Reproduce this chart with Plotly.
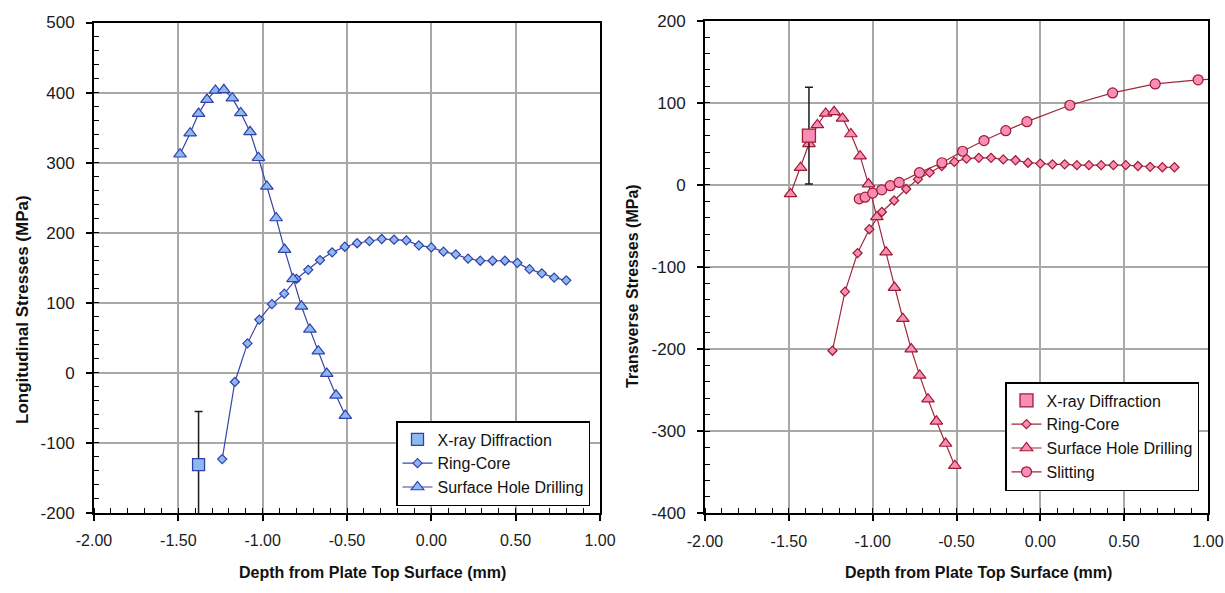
import plotly.graph_objects as go

# ---------------- data ----------------
x_tick_vals = [-2.0, -1.5, -1.0, -0.5, 0.0, 0.5, 1.0]
x_tick_text = ["-2.00", "-1.50", "-1.00", "-0.50", "0.00", "0.50", "1.00"]
yl_tick_vals = [-200, -100, 0, 100, 200, 300, 400, 500]
yl_tick_text = ["-200", "-100", "0", "100", "200", "300", "400", "500"]
yr_tick_vals = [-400, -300, -200, -100, 0, 100, 200]
yr_tick_text = ["-400", "-300", "-200", "-100", "0", "100", "200"]

# X-ray diffraction
xray_depth = [-1.38]
xray_long = [-131]
xray_long_err = [76]
xray_trans = [60]
xray_trans_err = [59]

# Ring-core
rc_depth = [-1.24, -1.165, -1.09, -1.02, -0.945, -0.872, -0.80, -0.73, -0.66, -0.588,
            -0.513, -0.44, -0.367, -0.294, -0.221, -0.148, -0.074, 0.0, 0.072, 0.145,
            0.218, 0.29, 0.363, 0.436, 0.51, 0.582, 0.655, 0.728, 0.80]
rc_long = [-123, -13, 42, 76, 98, 113, 134, 147, 161, 172,
           180, 185, 188, 191, 190, 189, 182, 179, 173, 169,
           163, 160, 160, 160, 157, 148, 142, 136, 132]
rc_trans = [-202, -130, -83, -54, -33, -19, -5, 7, 15, 23,
            28, 32, 33, 33, 31, 30, 27, 26, 25, 25,
            24, 24, 24, 24, 24, 23, 22, 21.5, 21.5]

# Surface hole drilling
shd_depth = [-1.49, -1.43, -1.38, -1.33, -1.28, -1.23, -1.18, -1.13, -1.075, -1.025,
             -0.975, -0.92, -0.87, -0.82, -0.77, -0.72, -0.67, -0.62, -0.565, -0.51]
shd_long = [312, 342, 370, 390, 403, 404, 392, 371, 344, 307,
            266, 221, 176, 134, 95, 62, 31, -1, -32, -61]
shd_trans = [-11, 21, 50, 73, 87, 89, 81, 62, 35, 1,
             -39, -82, -125, -163, -200, -232, -261, -288, -315, -342]

# Slitting (transverse only)
sl_depth = [-1.08, -1.045, -1.0, -0.946, -0.895, -0.842, -0.721, -0.587, -0.464,
            -0.336, -0.206, -0.08, 0.176, 0.431, 0.685, 0.941, 1.2]
sl_trans = [-17, -15, -10, -6, -1, 3, 15, 27, 41, 54, 66, 77, 97, 112, 123, 128, 130]

# ---------------- styles ----------------
FONT = "Liberation Sans, Arial, sans-serif"
B_FILL, B_EDGE, B_LINE = "#8DB9F2", "#3340A8", "#3945A8"
P_FILL, P_EDGE, P_LINE = "#F88DB8", "#9E1B32", "#A0283C"

fig = go.Figure()

# ---- left chart ----
fig.add_trace(go.Scatter(x=rc_depth, y=rc_long, mode="lines+markers", name="Ring-Core",
                         xaxis="x", yaxis="y", legend="legend", legendgroup="l2", legendrank=2,
                         line=dict(color=B_LINE, width=1.2),
                         marker=dict(symbol="diamond", size=7, color=B_FILL,
                                     line=dict(color=B_EDGE, width=1.2))))
fig.add_trace(go.Scatter(x=shd_depth, y=shd_long, mode="lines+markers", name="Surface Hole Drilling",
                         xaxis="x", yaxis="y", legend="legend", legendgroup="l3", legendrank=3,
                         line=dict(color=B_LINE, width=1.2),
                         marker=dict(symbol="triangle-up", size=11, color=B_FILL,
                                     line=dict(color=B_EDGE, width=1.2))))
fig.add_trace(go.Scatter(x=xray_depth, y=xray_long, mode="markers", name="X-ray Diffraction",
                         xaxis="x", yaxis="y", legend="legend", legendgroup="l1", legendrank=1,
                         error_y=dict(type="data", array=xray_long_err, color="#1a1a1a",
                                      thickness=1.5, width=4),
                         marker=dict(symbol="square", size=12, color=B_FILL,
                                     line=dict(color=B_EDGE, width=1.3))))

# ---- right chart ----
fig.add_trace(go.Scatter(x=rc_depth, y=rc_trans, mode="lines+markers", name="Ring-Core",
                         xaxis="x2", yaxis="y2", legend="legend2", legendgroup="r2", legendrank=2,
                         line=dict(color=P_LINE, width=1.2),
                         marker=dict(symbol="diamond", size=7, color=P_FILL,
                                     line=dict(color=P_EDGE, width=1.2))))
fig.add_trace(go.Scatter(x=shd_depth, y=shd_trans, mode="lines+markers", name="Surface Hole Drilling",
                         xaxis="x2", yaxis="y2", legend="legend2", legendgroup="r3", legendrank=3,
                         line=dict(color=P_LINE, width=1.2),
                         marker=dict(symbol="triangle-up", size=11, color=P_FILL,
                                     line=dict(color=P_EDGE, width=1.2))))
fig.add_trace(go.Scatter(x=sl_depth, y=sl_trans, mode="lines+markers", name="Slitting",
                         xaxis="x2", yaxis="y2", legend="legend2", legendgroup="r4", legendrank=4,
                         line=dict(color=P_LINE, width=1.2),
                         marker=dict(symbol="circle", size=10, color=P_FILL,
                                     line=dict(color=P_EDGE, width=1.2))))
fig.add_trace(go.Scatter(x=xray_depth, y=xray_trans, mode="markers", name="X-ray Diffraction",
                         xaxis="x2", yaxis="y2", legend="legend2", legendgroup="r1", legendrank=1,
                         error_y=dict(type="data", array=xray_trans_err, color="#1a1a1a",
                                      thickness=1.5, width=4),
                         marker=dict(symbol="square", size=13, color=P_FILL,
                                     line=dict(color=P_EDGE, width=1.3))))

# page body has an 8px margin: the figure starts at (8, 8) in the window
OFF = 8
W, H = 1225 - OFF, 593 - 2 * OFF - 3


def px_x(p):
    return (p - OFF) / W


def px_y(p):
    return 1 - (p - OFF) / H


common_x = dict(range=[-2, 1], tickmode="array", tickvals=x_tick_vals, ticktext=x_tick_text,
                showgrid=True, gridcolor="#A8A8A8", gridwidth=1.5,
                showline=True, linecolor="black", linewidth=2, mirror=True,
                ticks="outside", ticklen=6, tickwidth=1.5, tickcolor="black",
                minor=dict(dtick=0.1, tick0=0, ticks="inside", ticklen=5, tickwidth=1.2,
                           tickcolor="black", showgrid=False),
                zeroline=False, automargin=False, ticklabelstandoff=6,
                ticklabeloverflow="allow",
                tickfont=dict(family=FONT, size=16, color="#1a1a1a"))
common_y = dict(showgrid=True, gridcolor="#A8A8A8", gridwidth=1.5,
                showline=True, linecolor="black", linewidth=2, mirror=True,
                ticks="outside", ticklen=6, tickwidth=1.5, tickcolor="black",
                minor=dict(dtick=20, tick0=0, ticks="inside", ticklen=5, tickwidth=1.2,
                           tickcolor="black", showgrid=False),
                zeroline=False, automargin=False, ticklabelstandoff=8,
                ticklabeloverflow="allow",
                tickfont=dict(family=FONT, size=17, color="#1a1a1a"))

legend_common = dict(xanchor="left", yanchor="top", bgcolor="white",
                     bordercolor="black", borderwidth=1.5,
                     font=dict(family=FONT, size=16, color="#111111"),
                     traceorder="normal", itemclick=False, itemdoubleclick=False)

fig.update_layout(
    width=W, height=H, template="none",
    paper_bgcolor="white", plot_bgcolor="white",
    margin=dict(l=0, r=0, t=0, b=0),
    showlegend=True,
    xaxis=dict(domain=[px_x(94), px_x(600)], anchor="y", **common_x),
    yaxis=dict(domain=[px_y(513), px_y(22.5)], anchor="x", range=[-200, 500],
               tickmode="array", tickvals=yl_tick_vals, ticktext=yl_tick_text, **common_y),
    xaxis2=dict(domain=[px_x(705), px_x(1208)], anchor="y2", **common_x),
    yaxis2=dict(domain=[px_y(513.3), px_y(20.7)], anchor="x2", range=[-400, 200],
                tickmode="array", tickvals=yr_tick_vals, ticktext=yr_tick_text, **common_y),
    legend=dict(x=px_x(396), y=px_y(421), tracegroupgap=7, **legend_common),
    legend2=dict(x=px_x(1005), y=px_y(382), tracegroupgap=9, **legend_common),
    annotations=[
        dict(text="<b>Longitudinal Stresses (MPa)</b>", xref="paper", yref="paper",
             x=px_x(22), y=px_y(310), textangle=-90, showarrow=False,
             xanchor="center", yanchor="middle", font=dict(family=FONT, size=17, color="#111111")),
        dict(text="<b>Transverse Stresses (MPa)</b>", xref="paper", yref="paper",
             x=px_x(632), y=px_y(286), textangle=-90, showarrow=False,
             xanchor="center", yanchor="middle", font=dict(family=FONT, size=16, color="#111111")),
        dict(text="<b>Depth from Plate Top Surface (mm)</b>", xref="paper", yref="paper",
             x=px_x(372), y=px_y(572), showarrow=False,
             xanchor="center", yanchor="middle", font=dict(family=FONT, size=16, color="#111111")),
        dict(text="<b>Depth from Plate Top Surface (mm)</b>", xref="paper", yref="paper",
             x=px_x(978), y=px_y(572), showarrow=False,
             xanchor="center", yanchor="middle", font=dict(family=FONT, size=16, color="#111111")),
    ],
)

fig.write_html(
    "out.html",
    post_script=("document.body.style.margin='8px 0 0 8px';"
                 "document.body.style.overflow='hidden';"
                 "document.documentElement.style.overflow='hidden';"),
)
